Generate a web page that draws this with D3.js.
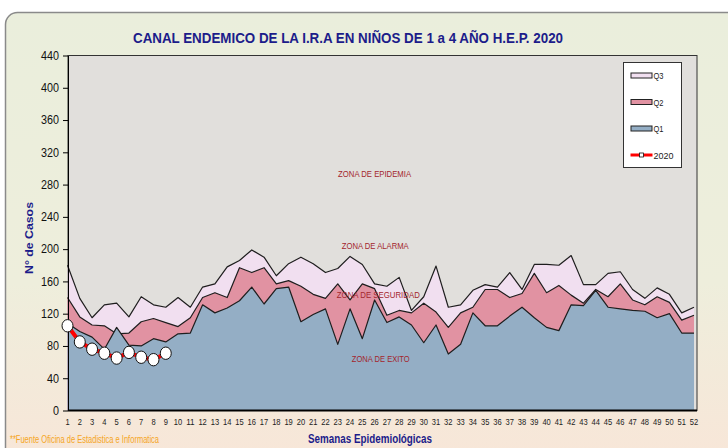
<!DOCTYPE html>
<html>
<head>
<meta charset="utf-8">
<script src="https://cdn.jsdelivr.net/npm/d3@7"></script>
<style>
  body { margin: 0; background: #fff; }
  text { font-family: "Liberation Sans", Arial, sans-serif; }
</style>
</head>
<body>
<div id="chart"></div>
<script>
// semanas epidemiologicas
var weeks = d3.range(1, 53);

// cuartiles (canal endemico)
var q3 = [180,139,115,131,133,116,141,131,128,140,128,153,157,178,186,199,190,167,182,190,
          182,171,176,191,181,157,154,165,124,141,179,128,131,149,156,153,171,150,181,181,
          180,192,156,156,170,172,150,139,152,144,121,128];
var q2 = [140,116,106,105,95,96,110,114,109,104,115,140,146,140,177,171,177,157,161,154,
          144,139,157,137,157,151,118,124,121,133,122,103,121,128,150,150,140,145,170,146,
          155,143,133,150,141,157,137,131,141,134,112,118];
var q1 = [108,98,91,76,103,81,80,89,85,95,96,131,121,127,136,153,132,151,153,110,
          119,126,82,126,89,137,109,116,106,84,106,70,82,121,105,105,117,128,115,103,
          99,131,130,149,128,126,124,123,115,120,96,96];
// casos 2020
var y2020 = [105,85,76,71,65,72,66,63,71];

var yTicks = d3.range(0, 441, 40);

var zoneLabels = ["ZONA DE EPIDEMIA", "ZONA DE ALARMA", "ZONA DE SEGURIDAD", "ZONA DE EXITO"];

var width = 728, height = 448;

var svg = d3.select("#chart").append("svg")
    .attr("width", width)
    .attr("height", height);

var defs = svg.append("defs");
var grad = defs.append("linearGradient")
    .attr("id", "bg")
    .attr("x1", 0).attr("y1", 0).attr("x2", 0).attr("y2", 1);
grad.append("stop").attr("offset", "0%").attr("stop-color", "#eaeedc");
grad.append("stop").attr("offset", "60%").attr("stop-color", "#eeeedc");
grad.append("stop").attr("offset", "100%").attr("stop-color", "#f8e6d8");

// marco del grafico
svg.append("rect")
    .attr("x", 5.5).attr("y", 12.5)
    .attr("width", 740).attr("height", 450)
    .attr("rx", 12)
    .attr("fill", "url(#bg)")
    .attr("stroke", "#8a8a8a")
    .attr("stroke-width", 1.5);

var x = d3.scaleLinear().domain([1, 52]).range([67.5, 694]);
var y = d3.scaleLinear().domain([0, 440]).range([410.5, 55.5]);

// area de trazado
svg.append("rect")
    .attr("x", 68).attr("y", y(440))
    .attr("width", 629).attr("height", y(0) - y(440))
    .attr("fill", "#e1dfdc")
    .attr("stroke", "#333")
    .attr("stroke-width", 1);

function area(vals) {
  return d3.area()
    .x(function(d, i) { return x(weeks[i]); })
    .y0(y(0))
    .y1(function(d) { return y(d); })(vals);
}
function line(vals) {
  return d3.line()
    .x(function(d, i) { return x(weeks[i]); })
    .y(function(d) { return y(d); })(vals);
}

var series = [
  {name: "Q3", vals: q3, fill: "#f1dff0"},
  {name: "Q2", vals: q2, fill: "#e192a2"},
  {name: "Q1", vals: q1, fill: "#94aec5"}
];

series.forEach(function(s) {
  svg.append("path")
      .attr("d", area(s.vals))
      .attr("fill", s.fill);
  svg.append("path")
      .attr("d", line(s.vals))
      .attr("fill", "none")
      .attr("stroke", "#1e1e1e")
      .attr("stroke-width", 1.2)
      .attr("stroke-linejoin", "round");
});

// etiquetas de zonas (posicion en semana / casos)
var zonePos = [[26, 289, 73], [26.05, 200, 67], [26.3, 140, 83], [26.5, 60, 58]];
svg.append("g").selectAll("text")
    .data(zoneLabels)
    .join("text")
      .attr("x", function(d, i) { return x(zonePos[i][0]); })
      .attr("y", function(d, i) { return y(zonePos[i][1]); })
      .attr("text-anchor", "middle")
      .attr("font-size", 9)
      .attr("textLength", function(d, i) { return zonePos[i][2]; })
      .attr("lengthAdjust", "spacingAndGlyphs")
      .attr("fill", "#a3262d")
      .text(function(d) { return d; });

// ejes
var yAxis = svg.append("g")
    .attr("transform", "translate(68,0)")
    .call(d3.axisLeft(y).tickValues(yTicks).tickSize(5).tickSizeOuter(0));
yAxis.select(".domain").attr("stroke", "#000");
yAxis.selectAll("line").attr("stroke", "#000");
yAxis.selectAll("text")
    .attr("font-family", "'Liberation Sans', Arial, sans-serif")
    .attr("font-size", 12)
    .attr("fill", "#111")
    .attr("textLength", function(d) { return String(d).length * 6; })
    .attr("lengthAdjust", "spacingAndGlyphs")
    .attr("dx", -1);

svg.append("line")
    .attr("x1", 68).attr("x2", 697)
    .attr("y1", y(0)).attr("y2", y(0))
    .attr("stroke", "#000").attr("stroke-width", 2);

svg.append("g").selectAll("text")
    .data(weeks)
    .join("text")
      .attr("x", function(d) { return x(d); })
      .attr("y", 425)
      .attr("text-anchor", "middle")
      .attr("font-size", 8.5)
      .attr("textLength", function(d) { return String(d).length * 4.2; })
      .attr("lengthAdjust", "spacingAndGlyphs")
      .attr("fill", "#222")
      .text(function(d) { return d; });

// serie 2020
svg.append("path")
    .attr("d", line(y2020))
    .attr("fill", "none")
    .attr("stroke", "#ff0000")
    .attr("stroke-width", 4);
svg.append("g").selectAll("ellipse")
    .data(y2020)
    .join("ellipse")
      .attr("cx", function(d, i) { return x(weeks[i]); })
      .attr("cy", function(d) { return y(d); })
      .attr("rx", 5.5).attr("ry", 6.2)
      .attr("fill", "#fff")
      .attr("stroke", "#111")
      .attr("stroke-width", 1);

// titulo
svg.append("text")
    .attr("x", 348).attr("y", 43)
    .attr("text-anchor", "middle")
    .attr("font-size", 15)
    .attr("font-weight", "bold")
    .attr("textLength", 430)
    .attr("lengthAdjust", "spacingAndGlyphs")
    .attr("fill", "#1c1c8a")
    .text("CANAL ENDEMICO DE LA I.R.A EN NIÑOS DE 1 a 4 AÑO H.E.P. 2020");

// titulo eje y
svg.append("text")
    .attr("transform", "translate(33,238) rotate(-90)")
    .attr("text-anchor", "middle")
    .attr("font-size", 11)
    .attr("font-weight", "bold")
    .attr("textLength", 72)
    .attr("lengthAdjust", "spacingAndGlyphs")
    .attr("fill", "#1c1c8a")
    .text("N° de Casos");

// titulo eje x
svg.append("text")
    .attr("x", 370).attr("y", 443)
    .attr("text-anchor", "middle")
    .attr("font-size", 12)
    .attr("font-weight", "bold")
    .attr("textLength", 124)
    .attr("lengthAdjust", "spacingAndGlyphs")
    .attr("fill", "#1c1c8a")
    .text("Semanas Epidemiológicas");

svg.append("text")
    .attr("x", 10).attr("y", 443)
    .attr("font-size", 10)
    .attr("textLength", 149)
    .attr("lengthAdjust", "spacingAndGlyphs")
    .attr("fill", "#f5a524")
    .text("**Fuente Oficina de Estadistica e Informatica");

// leyenda
var legendItems = [
  {name: "Q3", fill: "#f1dff0"},
  {name: "Q2", fill: "#e192a2"},
  {name: "Q1", fill: "#94aec5"},
  {name: "2020", fill: null}
];
var legend = svg.append("g").attr("transform", "translate(623.5,62.5)");
legend.append("rect")
    .attr("width", 58).attr("height", 105)
    .attr("fill", "#fff")
    .attr("stroke", "#333");
var li = legend.selectAll("g")
    .data(legendItems)
    .join("g")
      .attr("transform", function(d, i) { return "translate(0," + (13 + i * 26.5) + ")"; });
li.filter(function(d) { return d.fill; })
    .append("rect")
      .attr("x", 7.5).attr("y", -2.5)
      .attr("width", 21).attr("height", 5)
      .attr("fill", function(d) { return d.fill; })
      .attr("stroke", "#222");
var l20 = li.filter(function(d) { return !d.fill; });
l20.append("line")
    .attr("x1", 7).attr("x2", 29)
    .attr("stroke", "#ff0000").attr("stroke-width", 3);
l20.append("rect")
    .attr("x", 16).attr("y", -2).attr("width", 4).attr("height", 4)
    .attr("fill", "#fff").attr("stroke", "#111").attr("stroke-width", 0.8);
li.append("text")
    .attr("x", 30).attr("y", 3.5)
    .attr("font-size", 9)
    .attr("textLength", function(d) { return d.name.length * 5; })
    .attr("lengthAdjust", "spacingAndGlyphs")
    .attr("fill", "#222")
    .text(function(d) { return d.name; });
</script>
</body>
</html>
